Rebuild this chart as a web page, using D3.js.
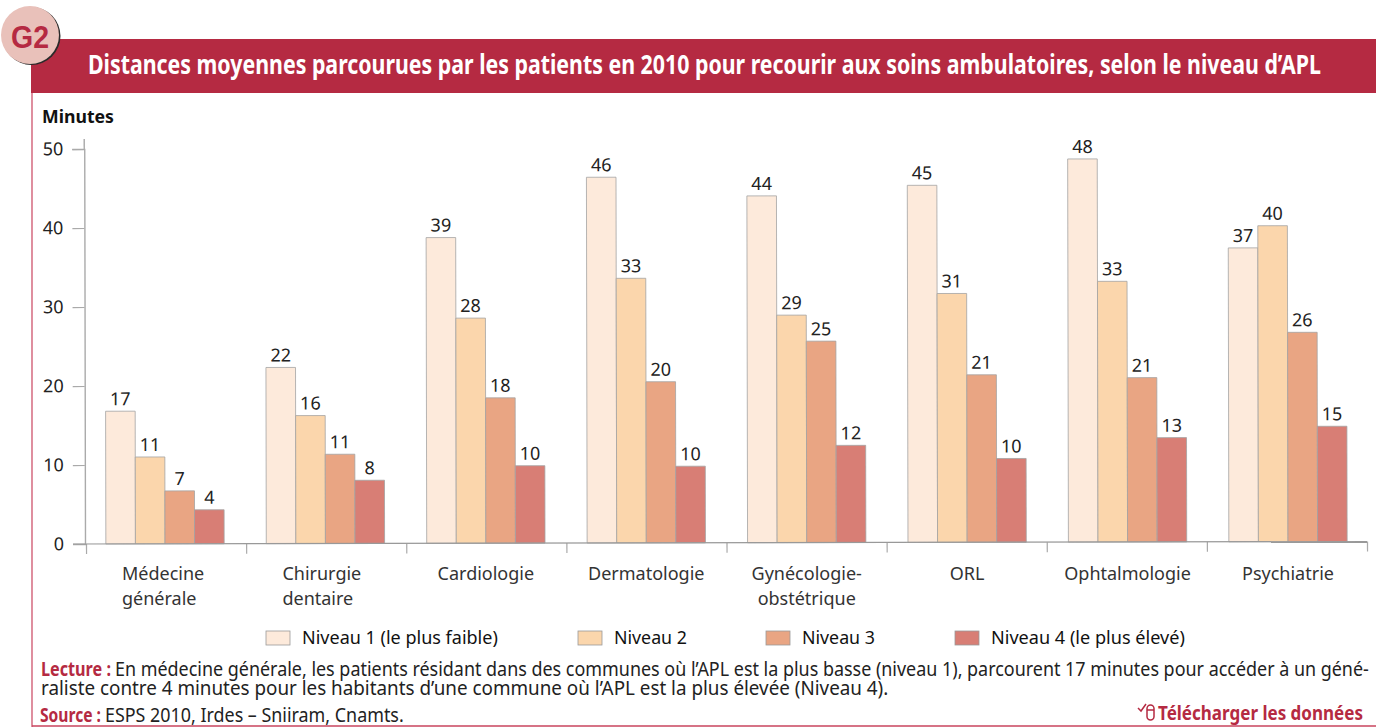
<!DOCTYPE html>
<html lang="fr">
<head>
<meta charset="UTF-8">
<title>Distances moyennes</title>
<script src="https://d3js.org/d3.v7.min.js"></script>
<style>
  html, body { margin: 0; padding: 0; background: #fff; overflow: hidden; }
  svg { display: block; }
  text { font-family: "Noto Sans", sans-serif; fill: #222; }
</style>
</head>
<body>
<div id="chart"></div>
<script>
// data
const categories = [["Médecine", "générale"], ["Chirurgie", "dentaire"], ["Cardiologie"], ["Dermatologie"],
  ["Gynécologie-", "obstétrique"], ["ORL"], ["Ophtalmologie"], ["Psychiatrie"]];
const seriesNames = ["Niveau 1 (le plus faible)", "Niveau 2", "Niveau 3", "Niveau 4 (le plus élevé)"];
const seriesColors = ["#fdeadb", "#fbd6ac", "#e9a583", "#d87e75"];
const niveau1 = [16.8, 22.3, 38.7, 46.3, 43.9, 45.2, 48.5, 37.2];
const niveau2 = [11.0, 16.2, 28.5, 33.5, 28.8, 31.5, 33.0, 40.0];
const niveau3 = [6.7, 11.3, 18.4, 20.4, 25.5, 21.2, 20.8, 26.5];
const niveau4 = [4.3, 8.0, 9.8, 9.7, 12.3, 10.6, 13.2, 14.6];
const labels1 = [17, 22, 39, 46, 44, 45, 48, 37];
const labels2 = [11, 16, 28, 33, 29, 31, 33, 40];
const labels3 = [7, 11, 18, 20, 25, 21, 21, 26];
const labels4 = [4, 8, 10, 10, 12, 10, 13, 15];
const yTicks = [0, 10, 20, 30, 40, 50];
const titleText = "Distances moyennes parcourues par les patients en 2010 pour recourir aux soins ambulatoires, selon le niveau d’APL";
const lecture1 = "En médecine générale, les patients résidant dans des communes où l’APL est la plus basse (niveau 1), parcourent 17 minutes pour accéder à un géné-";
const lecture2 = "raliste contre 4 minutes pour les habitants d’une commune où l’APL est la plus élevée (Niveau 4).";
const sourceText = "ESPS 2010, Irdes – Sniiram, Cnamts.";

const width = 1376, height = 727;
const red = "#b52a42", gray = "#aaa";

const svg = d3.select("#chart").append("svg")
  .attr("width", width)
  .attr("height", height);

// squeezes a text to the width it has in the picture
function addText(parent, str, x, y, size, opts) {
  opts = opts || {};
  const t = parent.append("text")
    .attr("x", x).attr("y", y)
    .attr("font-size", size)
    .attr("font-weight", opts.bold ? 700 : 400)
    .style("fill", opts.fill || "#222")
    .attr("text-anchor", opts.anchor || "start")
    .text(str);
  if (opts.family) t.style("font-family", opts.family);
  if (opts.len) {
    const sx = opts.len / t.node().getComputedTextLength();
    const x0 = opts.anchor === "middle" ? x - opts.len / 2 : x;
    t.attr("x", 0).attr("y", 0).attr("text-anchor", "start")
      .attr("transform", "translate(" + x0 + "," + y + ") scale(" + sx + ",1)");
  }
  return t;
}

// frame and header
svg.append("line").attr("x1", 32).attr("x2", 32).attr("y1", 90).attr("y2", height).attr("stroke", "#c9445e").attr("stroke-width", 1.2);
svg.append("line").attr("x1", 32).attr("x2", width).attr("y1", 726).attr("y2", 726).attr("stroke", "#c9445e").attr("stroke-width", 1.4);
svg.append("rect").attr("x", 31).attr("y", 39).attr("width", width - 31).attr("height", 54).attr("fill", red);
svg.append("circle").attr("cx", 31.5).attr("cy", 36).attr("r", 29).attr("fill", "#2a2a2a");
svg.append("circle").attr("cx", 30).attr("cy", 35).attr("r", 29).attr("fill", "#e9c1ba");
addText(svg, "G2", 30, 48, 31, { bold: true, fill: red, anchor: "middle", len: 38, family: "'Liberation Sans'" });
addText(svg, titleText, 88, 74, 26, { bold: true, fill: "#fff", len: 1234 });
addText(svg, "Minutes", 42, 123, 18, { bold: true, fill: "#111", len: 72 });

// plot, turned a hair like the scan
const plot = svg.append("g").attr("transform", "rotate(-0.11 86 544)");

const y = d3.scaleLinear().domain([0, 50]).range([544, 149]);
const xTick = d3.scaleLinear().domain([0, categories.length]).range([86, 1367]);
const x = d3.scaleBand().domain(d3.range(categories.length)).range([85, 1368]).paddingInner(0.2625).paddingOuter(0.13);
const xSeries = d3.scaleBand().domain(d3.range(4)).range([0, x.bandwidth()]);

const values = [niveau1, niveau2, niveau3, niveau4];
const texts = [labels1, labels2, labels3, labels4];

values.forEach((vals, s) => {
  const g = plot.append("g");
  g.selectAll("rect").data(vals).enter().append("rect")
    .attr("x", (d, i) => x(i) + xSeries(s))
    .attr("y", d => y(d))
    .attr("width", xSeries.bandwidth())
    .attr("height", d => y(0) - y(d))
    .attr("fill", seriesColors[s])
    .attr("stroke", "#a3a3a3")
    .attr("stroke-width", 0.8);
  g.selectAll("text").data(texts[s]).enter().append("text")
    .attr("x", (d, i) => x(i) + xSeries(s) + xSeries.bandwidth() / 2)
    .attr("y", (d, i) => y(vals[i]) - 6)
    .attr("text-anchor", "middle")
    .attr("font-size", 18)
    .text(d => d);
});

// axes
const yAxis = plot.append("g").attr("transform", "translate(85,0)")
  .call(d3.axisLeft(y).tickValues(yTicks).tickSize(12).tickPadding(9));
yAxis.select(".domain").attr("stroke", gray).attr("stroke-width", 1.4);
yAxis.selectAll(".tick line").attr("stroke", gray).attr("stroke-width", 1.2);
yAxis.selectAll("text").attr("font-size", 18).attr("font-family", "'Noto Sans'").style("fill", "#222");
plot.append("line").attr("x1", 85).attr("x2", 85).attr("y1", 139).attr("y2", 149).attr("stroke", gray).attr("stroke-width", 1.4);

const xAxis = plot.append("g").attr("transform", "translate(0,544)")
  .call(d3.axisBottom(xTick).tickValues(d3.range(categories.length + 1)).tickSize(10).tickFormat(""));
xAxis.select(".domain").remove();
xAxis.selectAll(".tick line").attr("stroke", gray).attr("stroke-width", 1.2);
plot.append("line").attr("x1", 73).attr("x2", 1367).attr("y1", 544).attr("y2", 544).attr("stroke", "#999").attr("stroke-width", 1.2);

// category names, the first two are set flush left
categories.forEach((lines, i) => {
  const cx = x(i) + x.bandwidth() / 2;
  lines.forEach((line, k) => {
    const t = addText(svg, line, cx, 580 + k * 25, 18, { anchor: "middle", fill: "#333" });
    if (i < 2) t.attr("text-anchor", "start").attr("x", cx - 43);
  });
});

// legend
const legendX = d3.scaleOrdinal().domain(seriesNames).range([266, 578, 766, 955]);
const legend = svg.append("g");
seriesNames.forEach((name, s) => {
  legend.append("rect")
    .attr("x", legendX(name)).attr("y", 631)
    .attr("width", 24).attr("height", 14)
    .attr("fill", seriesColors[s]).attr("stroke", "#999").attr("stroke-width", 0.8);
  addText(legend, name, legendX(name) + 36, 644, 17.5, { fill: "#111", len: s === 0 ? 196 : s === 3 ? 194 : 73 });
});

// notes
addText(svg, "Lecture :", 41, 676, 19, { bold: true, fill: red, len: 70 });
addText(svg, lecture1, 115, 676, 19.5, { len: 1255 });
addText(svg, lecture2, 41, 694.5, 19.5, { len: 848 });
addText(svg, "Source :", 40, 722, 19, { bold: true, fill: red, len: 61 });
addText(svg, sourceText, 105, 722, 19.5, { len: 299 });
addText(svg, "Télécharger les données", 1158, 720, 19.5, { bold: true, fill: red, len: 205 });

// little mouse icon
const icon = svg.append("g").attr("fill", "none").attr("stroke", red).attr("stroke-width", 1.5);
icon.append("path").attr("d", "M1138 708 l3 3 l5 -7");
icon.append("rect").attr("x", 1147).attr("y", 705).attr("width", 7).attr("height", 15).attr("rx", 3.5);
icon.append("line").attr("x1", 1147).attr("x2", 1154).attr("y1", 710).attr("y2", 710);
</script>
</body>
</html>
